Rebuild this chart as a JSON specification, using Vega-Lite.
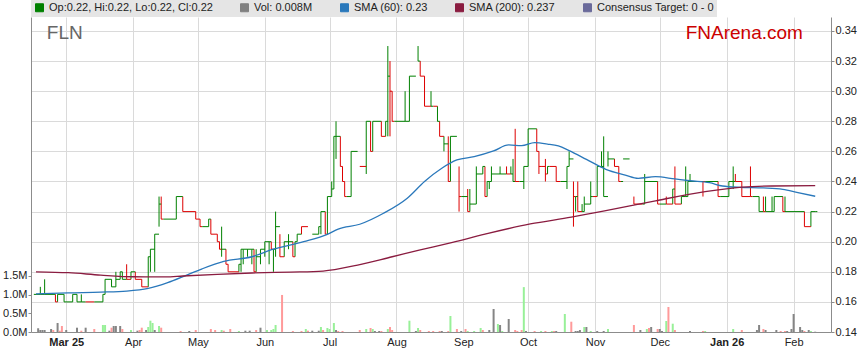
{
"$schema": "https://vega.github.io/schema/vega-lite/v6.json",
"width": 800, "height": 315,
"autosize": {"type": "none"},
"padding": {"left": 31, "top": 17, "right": 28, "bottom": 31},
"background": "white",
"config": {
  "view": {"stroke": null},
  "font": "Liberation Sans",
  "axis": {"labelFont": "Liberation Sans", "labelFontSize": 11, "labelColor": "#222", "domainColor": "#8c8c8c", "tickColor": "#8c8c8c", "gridColor": "#dadada", "gridWidth": 1, "labelOverlap": false},
  "axisRight": {"labelOverlap": false, "values": [0.14,0.16,0.18,0.2,0.22,0.24,0.26,0.28,0.3,0.32,0.34], "tickCount": 11}
},
"datasets": {
"px": [
{"d":"2025-02-14","e":"2025-02-17","l":0.165,"h":0.165,"c":0.165,"u":1},
{"d":"2025-02-17","e":"2025-02-19","l":0.165,"h":0.17,"c":0.165,"u":1},
{"d":"2025-02-19","e":"2025-02-24","l":0.165,"h":0.175,"c":0.165,"u":1},
{"d":"2025-02-24","e":"2025-02-25","l":0.16,"h":0.165,"c":0.16,"u":0},
{"d":"2025-02-25","e":"2025-02-28","l":0.16,"h":0.165,"c":0.165,"u":1},
{"d":"2025-02-28","e":"2025-03-04","l":0.16,"h":0.165,"c":0.16,"u":1},
{"d":"2025-03-04","e":"2025-03-06","l":0.16,"h":0.165,"c":0.165,"u":1},
{"d":"2025-03-06","e":"2025-03-08","l":0.16,"h":0.165,"c":0.16,"u":1},
{"d":"2025-03-08","e":"2025-03-10","l":0.16,"h":0.165,"c":0.16,"u":1},
{"d":"2025-03-10","e":"2025-03-14","l":0.16,"h":0.16,"c":0.16,"u":0},
{"d":"2025-03-14","e":"2025-03-18","l":0.16,"h":0.16,"c":0.16,"u":1},
{"d":"2025-03-18","e":"2025-03-19","l":0.16,"h":0.165,"c":0.165,"u":1},
{"d":"2025-03-19","e":"2025-03-22","l":0.165,"h":0.175,"c":0.175,"u":1},
{"d":"2025-03-22","e":"2025-03-24","l":0.17,"h":0.175,"c":0.17,"u":1},
{"d":"2025-03-24","e":"2025-03-26","l":0.17,"h":0.18,"c":0.175,"u":1},
{"d":"2025-03-26","e":"2025-03-27","l":0.175,"h":0.18,"c":0.18,"u":1},
{"d":"2025-03-27","e":"2025-03-29","l":0.175,"h":0.18,"c":0.175,"u":1},
{"d":"2025-03-29","e":"2025-03-31","l":0.175,"h":0.185,"c":0.175,"u":0},
{"d":"2025-03-31","e":"2025-04-02","l":0.175,"h":0.18,"c":0.18,"u":1},
{"d":"2025-04-02","e":"2025-04-05","l":0.175,"h":0.18,"c":0.175,"u":0},
{"d":"2025-04-05","e":"2025-04-08","l":0.17,"h":0.175,"c":0.17,"u":0},
{"d":"2025-04-08","e":"2025-04-09","l":0.17,"h":0.19,"c":0.19,"u":1},
{"d":"2025-04-09","e":"2025-04-11","l":0.18,"h":0.195,"c":0.195,"u":1},
{"d":"2025-04-11","e":"2025-04-13","l":0.18,"h":0.205,"c":0.205,"u":1},
{"d":"2025-04-13","e":"2025-04-14","l":0.21,"h":0.23,"c":0.225,"u":1},
{"d":"2025-04-14","e":"2025-04-15","l":0.215,"h":0.23,"c":0.215,"u":0},
{"d":"2025-04-15","e":"2025-04-21","l":0.215,"h":0.215,"c":0.215,"u":1},
{"d":"2025-04-21","e":"2025-04-24","l":0.215,"h":0.23,"c":0.23,"u":1},
{"d":"2025-04-24","e":"2025-04-30","l":0.22,"h":0.23,"c":0.22,"u":0},
{"d":"2025-04-30","e":"2025-05-02","l":0.215,"h":0.22,"c":0.215,"u":0},
{"d":"2025-05-02","e":"2025-05-03","l":0.21,"h":0.215,"c":0.21,"u":0},
{"d":"2025-05-03","e":"2025-05-06","l":0.21,"h":0.21,"c":0.21,"u":1},
{"d":"2025-05-06","e":"2025-05-07","l":0.21,"h":0.215,"c":0.215,"u":1},
{"d":"2025-05-07","e":"2025-05-10","l":0.205,"h":0.215,"c":0.205,"u":0},
{"d":"2025-05-10","e":"2025-05-11","l":0.2,"h":0.205,"c":0.2,"u":0},
{"d":"2025-05-11","e":"2025-05-12","l":0.195,"h":0.2,"c":0.195,"u":0},
{"d":"2025-05-12","e":"2025-05-14","l":0.19,"h":0.21,"c":0.195,"u":1},
{"d":"2025-05-14","e":"2025-05-15","l":0.185,"h":0.195,"c":0.185,"u":0},
{"d":"2025-05-15","e":"2025-05-20","l":0.18,"h":0.185,"c":0.18,"u":0},
{"d":"2025-05-20","e":"2025-05-21","l":0.18,"h":0.185,"c":0.185,"u":1},
{"d":"2025-05-21","e":"2025-05-22","l":0.18,"h":0.195,"c":0.195,"u":1},
{"d":"2025-05-22","e":"2025-05-24","l":0.185,"h":0.195,"c":0.195,"u":1},
{"d":"2025-05-24","e":"2025-05-26","l":0.19,"h":0.195,"c":0.195,"u":1},
{"d":"2025-05-26","e":"2025-05-27","l":0.185,"h":0.195,"c":0.195,"u":1},
{"d":"2025-05-27","e":"2025-05-28","l":0.18,"h":0.195,"c":0.18,"u":0},
{"d":"2025-05-28","e":"2025-05-30","l":0.18,"h":0.195,"c":0.19,"u":1},
{"d":"2025-05-30","e":"2025-06-01","l":0.185,"h":0.195,"c":0.195,"u":1},
{"d":"2025-06-01","e":"2025-06-03","l":0.19,"h":0.2,"c":0.2,"u":1},
{"d":"2025-06-03","e":"2025-06-04","l":0.185,"h":0.2,"c":0.2,"u":1},
{"d":"2025-06-04","e":"2025-06-05","l":0.195,"h":0.2,"c":0.195,"u":0},
{"d":"2025-06-05","e":"2025-06-06","l":0.18,"h":0.195,"c":0.195,"u":1},
{"d":"2025-06-06","e":"2025-06-08","l":0.19,"h":0.22,"c":0.21,"u":1},
{"d":"2025-06-08","e":"2025-06-10","l":0.19,"h":0.205,"c":0.19,"u":0},
{"d":"2025-06-10","e":"2025-06-12","l":0.19,"h":0.2,"c":0.2,"u":1},
{"d":"2025-06-12","e":"2025-06-14","l":0.195,"h":0.205,"c":0.2,"u":1},
{"d":"2025-06-14","e":"2025-06-15","l":0.19,"h":0.2,"c":0.19,"u":0},
{"d":"2025-06-15","e":"2025-06-16","l":0.19,"h":0.2,"c":0.2,"u":1},
{"d":"2025-06-16","e":"2025-06-18","l":0.2,"h":0.205,"c":0.205,"u":1},
{"d":"2025-06-18","e":"2025-06-21","l":0.205,"h":0.21,"c":0.21,"u":0},
{"d":"2025-06-23","e":"2025-06-26","l":0.205,"h":0.205,"c":0.205,"u":1},
{"d":"2025-06-26","e":"2025-06-27","l":0.205,"h":0.21,"c":0.21,"u":1},
{"d":"2025-06-27","e":"2025-06-29","l":0.205,"h":0.22,"c":0.22,"u":1},
{"d":"2025-06-29","e":"2025-06-30","l":0.205,"h":0.22,"c":0.205,"u":0},
{"d":"2025-06-30","e":"2025-07-02","l":0.205,"h":0.23,"c":0.23,"u":1},
{"d":"2025-07-02","e":"2025-07-03","l":0.23,"h":0.24,"c":0.235,"u":1},
{"d":"2025-07-03","e":"2025-07-04","l":0.235,"h":0.27,"c":0.27,"u":1},
{"d":"2025-07-04","e":"2025-07-06","l":0.255,"h":0.28,"c":0.27,"u":1},
{"d":"2025-07-06","e":"2025-07-07","l":0.25,"h":0.27,"c":0.25,"u":0},
{"d":"2025-07-07","e":"2025-07-08","l":0.24,"h":0.25,"c":0.24,"u":0},
{"d":"2025-07-08","e":"2025-07-09","l":0.23,"h":0.24,"c":0.23,"u":0},
{"d":"2025-07-09","e":"2025-07-11","l":0.23,"h":0.23,"c":0.23,"u":1},
{"d":"2025-07-11","e":"2025-07-14","l":0.23,"h":0.26,"c":0.26,"u":1},
{"d":"2025-07-15","e":"2025-07-18","l":0.25,"h":0.25,"c":0.25,"u":0},
{"d":"2025-07-18","e":"2025-07-20","l":0.245,"h":0.28,"c":0.28,"u":1},
{"d":"2025-07-20","e":"2025-07-21","l":0.26,"h":0.28,"c":0.26,"u":0},
{"d":"2025-07-21","e":"2025-07-25","l":0.26,"h":0.28,"c":0.28,"u":1},
{"d":"2025-07-25","e":"2025-07-27","l":0.27,"h":0.28,"c":0.27,"u":0},
{"d":"2025-07-27","e":"2025-07-28","l":0.27,"h":0.28,"c":0.28,"u":1},
{"d":"2025-07-28","e":"2025-07-29","l":0.27,"h":0.33,"c":0.31,"u":1},
{"d":"2025-07-29","e":"2025-07-30","l":0.27,"h":0.32,"c":0.3,"u":0},
{"d":"2025-07-30","e":"2025-07-31","l":0.28,"h":0.3,"c":0.28,"u":0},
{"d":"2025-07-31","e":"2025-08-05","l":0.28,"h":0.28,"c":0.28,"u":1},
{"d":"2025-08-05","e":"2025-08-07","l":0.28,"h":0.3,"c":0.28,"u":1},
{"d":"2025-08-07","e":"2025-08-10","l":0.28,"h":0.31,"c":0.31,"u":1},
{"d":"2025-08-11","e":"2025-08-12","l":0.32,"h":0.33,"c":0.32,"u":1},
{"d":"2025-08-12","e":"2025-08-14","l":0.31,"h":0.32,"c":0.31,"u":0},
{"d":"2025-08-14","e":"2025-08-17","l":0.29,"h":0.31,"c":0.29,"u":0},
{"d":"2025-08-17","e":"2025-08-18","l":0.29,"h":0.3,"c":0.29,"u":1},
{"d":"2025-08-18","e":"2025-08-20","l":0.29,"h":0.29,"c":0.29,"u":0},
{"d":"2025-08-20","e":"2025-08-21","l":0.28,"h":0.29,"c":0.28,"u":1},
{"d":"2025-08-21","e":"2025-08-23","l":0.27,"h":0.28,"c":0.27,"u":0},
{"d":"2025-08-23","e":"2025-08-25","l":0.26,"h":0.27,"c":0.265,"u":1},
{"d":"2025-08-25","e":"2025-08-26","l":0.24,"h":0.27,"c":0.24,"u":0},
{"d":"2025-08-26","e":"2025-08-29","l":0.24,"h":0.27,"c":0.27,"u":1},
{"d":"2025-08-30","e":"2025-08-31","l":0.22,"h":0.25,"c":0.23,"u":0},
{"d":"2025-08-31","e":"2025-09-03","l":0.23,"h":0.23,"c":0.23,"u":1},
{"d":"2025-09-03","e":"2025-09-04","l":0.22,"h":0.235,"c":0.22,"u":0},
{"d":"2025-09-04","e":"2025-09-07","l":0.22,"h":0.235,"c":0.225,"u":1},
{"d":"2025-09-07","e":"2025-09-10","l":0.225,"h":0.25,"c":0.245,"u":1},
{"d":"2025-09-10","e":"2025-09-11","l":0.245,"h":0.25,"c":0.25,"u":1},
{"d":"2025-09-11","e":"2025-09-12","l":0.23,"h":0.25,"c":0.23,"u":0},
{"d":"2025-09-12","e":"2025-09-13","l":0.23,"h":0.24,"c":0.24,"u":1},
{"d":"2025-09-13","e":"2025-09-14","l":0.235,"h":0.24,"c":0.24,"u":1},
{"d":"2025-09-14","e":"2025-09-18","l":0.24,"h":0.25,"c":0.245,"u":1},
{"d":"2025-09-18","e":"2025-09-21","l":0.245,"h":0.25,"c":0.245,"u":1},
{"d":"2025-09-21","e":"2025-09-23","l":0.245,"h":0.25,"c":0.245,"u":0},
{"d":"2025-09-23","e":"2025-09-24","l":0.245,"h":0.25,"c":0.245,"u":1},
{"d":"2025-09-24","e":"2025-09-25","l":0.24,"h":0.255,"c":0.24,"u":1},
{"d":"2025-09-25","e":"2025-09-27","l":0.24,"h":0.275,"c":0.24,"u":0},
{"d":"2025-09-27","e":"2025-09-29","l":0.24,"h":0.24,"c":0.24,"u":1},
{"d":"2025-09-29","e":"2025-10-01","l":0.235,"h":0.25,"c":0.25,"u":1},
{"d":"2025-10-01","e":"2025-10-05","l":0.25,"h":0.275,"c":0.275,"u":1},
{"d":"2025-10-05","e":"2025-10-06","l":0.26,"h":0.275,"c":0.26,"u":0},
{"d":"2025-10-06","e":"2025-10-07","l":0.245,"h":0.26,"c":0.25,"u":0},
{"d":"2025-10-07","e":"2025-10-09","l":0.25,"h":0.25,"c":0.25,"u":0},
{"d":"2025-10-09","e":"2025-10-10","l":0.24,"h":0.255,"c":0.245,"u":0},
{"d":"2025-10-10","e":"2025-10-11","l":0.245,"h":0.25,"c":0.25,"u":1},
{"d":"2025-10-11","e":"2025-10-14","l":0.25,"h":0.25,"c":0.25,"u":0},
{"d":"2025-10-14","e":"2025-10-16","l":0.24,"h":0.25,"c":0.24,"u":0},
{"d":"2025-10-16","e":"2025-10-19","l":0.24,"h":0.24,"c":0.24,"u":1},
{"d":"2025-10-19","e":"2025-10-20","l":0.235,"h":0.25,"c":0.25,"u":1},
{"d":"2025-10-20","e":"2025-10-22","l":0.25,"h":0.26,"c":0.255,"u":1},
{"d":"2025-10-22","e":"2025-10-23","l":0.21,"h":0.24,"c":0.23,"u":0},
{"d":"2025-10-23","e":"2025-10-24","l":0.22,"h":0.23,"c":0.23,"u":1},
{"d":"2025-10-24","e":"2025-10-26","l":0.22,"h":0.24,"c":0.22,"u":0},
{"d":"2025-10-26","e":"2025-10-27","l":0.22,"h":0.225,"c":0.22,"u":1},
{"d":"2025-10-27","e":"2025-10-30","l":0.22,"h":0.23,"c":0.225,"u":1},
{"d":"2025-10-30","e":"2025-10-31","l":0.225,"h":0.24,"c":0.23,"u":1},
{"d":"2025-10-31","e":"2025-11-02","l":0.23,"h":0.23,"c":0.23,"u":0},
{"d":"2025-11-02","e":"2025-11-04","l":0.23,"h":0.25,"c":0.25,"u":1},
{"d":"2025-11-04","e":"2025-11-05","l":0.25,"h":0.26,"c":0.25,"u":1},
{"d":"2025-11-05","e":"2025-11-07","l":0.23,"h":0.27,"c":0.23,"u":1},
{"d":"2025-11-07","e":"2025-11-10","l":0.25,"h":0.26,"c":0.255,"u":1},
{"d":"2025-11-10","e":"2025-11-12","l":0.25,"h":0.255,"c":0.25,"u":0},
{"d":"2025-11-12","e":"2025-11-13","l":0.24,"h":0.25,"c":0.24,"u":0},
{"d":"2025-11-13","e":"2025-11-14","l":0.24,"h":0.24,"c":0.24,"u":1},
{"d":"2025-11-14","e":"2025-11-17","l":0.255,"h":0.255,"c":0.255,"u":1},
{"d":"2025-11-19","e":"2025-11-23","l":0.225,"h":0.23,"c":0.225,"u":0},
{"d":"2025-11-23","e":"2025-11-24","l":0.225,"h":0.225,"c":0.225,"u":1},
{"d":"2025-11-24","e":"2025-11-30","l":0.225,"h":0.245,"c":0.24,"u":1},
{"d":"2025-11-30","e":"2025-12-01","l":0.225,"h":0.24,"c":0.225,"u":0},
{"d":"2025-12-01","e":"2025-12-04","l":0.225,"h":0.225,"c":0.225,"u":1},
{"d":"2025-12-04","e":"2025-12-07","l":0.225,"h":0.23,"c":0.225,"u":0},
{"d":"2025-12-07","e":"2025-12-08","l":0.225,"h":0.235,"c":0.235,"u":1},
{"d":"2025-12-08","e":"2025-12-11","l":0.225,"h":0.25,"c":0.225,"u":0},
{"d":"2025-12-11","e":"2025-12-13","l":0.225,"h":0.23,"c":0.23,"u":1},
{"d":"2025-12-13","e":"2025-12-14","l":0.23,"h":0.25,"c":0.23,"u":1},
{"d":"2025-12-14","e":"2025-12-15","l":0.23,"h":0.24,"c":0.24,"u":1},
{"d":"2025-12-15","e":"2025-12-21","l":0.24,"h":0.245,"c":0.24,"u":1},
{"d":"2025-12-21","e":"2025-12-22","l":0.23,"h":0.24,"c":0.24,"u":0},
{"d":"2025-12-22","e":"2025-12-28","l":0.24,"h":0.24,"c":0.24,"u":1},
{"d":"2025-12-28","e":"2025-12-29","l":0.23,"h":0.24,"c":0.23,"u":0},
{"d":"2025-12-29","e":"2026-01-02","l":0.23,"h":0.23,"c":0.23,"u":1},
{"d":"2026-01-02","e":"2026-01-04","l":0.23,"h":0.24,"c":0.24,"u":1},
{"d":"2026-01-04","e":"2026-01-05","l":0.235,"h":0.25,"c":0.24,"u":1},
{"d":"2026-01-05","e":"2026-01-08","l":0.24,"h":0.245,"c":0.24,"u":0},
{"d":"2026-01-08","e":"2026-01-12","l":0.23,"h":0.24,"c":0.23,"u":0},
{"d":"2026-01-12","e":"2026-01-13","l":0.23,"h":0.25,"c":0.23,"u":0},
{"d":"2026-01-13","e":"2026-01-16","l":0.23,"h":0.23,"c":0.23,"u":1},
{"d":"2026-01-16","e":"2026-01-18","l":0.22,"h":0.23,"c":0.22,"u":1},
{"d":"2026-01-18","e":"2026-01-19","l":0.22,"h":0.23,"c":0.22,"u":0},
{"d":"2026-01-19","e":"2026-01-22","l":0.22,"h":0.23,"c":0.22,"u":1},
{"d":"2026-01-22","e":"2026-01-23","l":0.22,"h":0.23,"c":0.22,"u":1},
{"d":"2026-01-23","e":"2026-01-27","l":0.22,"h":0.23,"c":0.23,"u":1},
{"d":"2026-01-27","e":"2026-01-28","l":0.22,"h":0.23,"c":0.22,"u":0},
{"d":"2026-01-28","e":"2026-02-06","l":0.22,"h":0.23,"c":0.22,"u":1},
{"d":"2026-02-06","e":"2026-02-09","l":0.21,"h":0.22,"c":0.21,"u":0},
{"d":"2026-02-09","e":"2026-02-11","l":0.21,"h":0.22,"c":0.22,"u":1},
{"d":"2026-02-11","e":"2026-02-12","l":0.22,"h":0.22,"c":0.22,"u":1}
],
"vol": [
{"d":"2025-02-16","v":100000,"k":"n"},{"d":"2025-02-17","v":53000,"k":"n"},{"d":"2025-02-18","v":53000,"k":"n"},{"d":"2025-02-19","v":53000,"k":"n"},
{"d":"2025-02-22","v":80000,"k":"n"},{"d":"2025-02-23","v":53000,"k":"d"},{"d":"2025-02-25","v":240000,"k":"n"},{"d":"2025-02-26","v":35000,"k":"d"},
{"d":"2025-02-27","v":160000,"k":"d"},{"d":"2025-03-01","v":53000,"k":"n"},{"d":"2025-03-06","v":115000,"k":"n"},{"d":"2025-03-08","v":35000,"k":"d"},
{"d":"2025-03-10","v":115000,"k":"n"},{"d":"2025-03-14","v":80000,"k":"d"},{"d":"2025-03-18","v":187000,"k":"u"},{"d":"2025-03-19","v":187000,"k":"u"},
{"d":"2025-03-21","v":35000,"k":"n"},{"d":"2025-03-22","v":115000,"k":"d"},{"d":"2025-03-23","v":160000,"k":"n"},{"d":"2025-03-24","v":160000,"k":"n"},
{"d":"2025-03-26","v":160000,"k":"n"},{"d":"2025-03-27","v":80000,"k":"d"},{"d":"2025-03-31","v":53000,"k":"u"},{"d":"2025-04-03","v":35000,"k":"n"},
{"d":"2025-04-04","v":53000,"k":"d"},{"d":"2025-04-05","v":115000,"k":"d"},{"d":"2025-04-07","v":53000,"k":"n"},{"d":"2025-04-08","v":134000,"k":"u"},
{"d":"2025-04-09","v":302000,"k":"u"},{"d":"2025-04-10","v":240000,"k":"u"},{"d":"2025-04-11","v":53000,"k":"n"},{"d":"2025-04-13","v":160000,"k":"u"},
{"d":"2025-04-14","v":115000,"k":"d"},{"d":"2025-04-23","v":27000,"k":"d"},{"d":"2025-04-27","v":27000,"k":"n"},{"d":"2025-04-30","v":53000,"k":"d"},
{"d":"2025-05-07","v":80000,"k":"d"},{"d":"2025-05-09","v":53000,"k":"d"},{"d":"2025-05-12","v":53000,"k":"u"},{"d":"2025-05-13","v":35000,"k":"d"},
{"d":"2025-05-16","v":80000,"k":"d"},{"d":"2025-05-20","v":27000,"k":"u"},{"d":"2025-05-23","v":35000,"k":"n"},{"d":"2025-05-25","v":35000,"k":"n"},
{"d":"2025-05-28","v":53000,"k":"d"},{"d":"2025-05-30","v":115000,"k":"n"},{"d":"2025-06-02","v":53000,"k":"u"},{"d":"2025-06-04","v":53000,"k":"u"},
{"d":"2025-06-05","v":80000,"k":"u"},{"d":"2025-06-06","v":187000,"k":"u"},{"d":"2025-06-09","v":990000,"k":"d"},{"d":"2025-06-14","v":27000,"k":"d"},
{"d":"2025-06-18","v":27000,"k":"d"},{"d":"2025-06-20","v":80000,"k":"u"},{"d":"2025-06-21","v":35000,"k":"d"},{"d":"2025-06-23","v":35000,"k":"n"},
{"d":"2025-06-26","v":35000,"k":"n"},{"d":"2025-06-27","v":134000,"k":"u"},{"d":"2025-06-28","v":53000,"k":"d"},{"d":"2025-06-30","v":107000,"k":"u"},
{"d":"2025-07-01","v":80000,"k":"u"},{"d":"2025-07-03","v":240000,"k":"u"},{"d":"2025-07-04","v":53000,"k":"n"},{"d":"2025-07-05","v":27000,"k":"d"},
{"d":"2025-07-07","v":27000,"k":"d"},{"d":"2025-07-15","v":53000,"k":"d"},{"d":"2025-07-18","v":80000,"k":"u"},{"d":"2025-07-20","v":107000,"k":"d"},
{"d":"2025-07-21","v":80000,"k":"u"},{"d":"2025-07-22","v":27000,"k":"n"},{"d":"2025-07-24","v":27000,"k":"n"},{"d":"2025-07-25","v":27000,"k":"d"},
{"d":"2025-07-28","v":80000,"k":"u"},{"d":"2025-07-29","v":134000,"k":"d"},{"d":"2025-07-30","v":53000,"k":"d"},{"d":"2025-08-07","v":302000,"k":"u"},
{"d":"2025-08-10","v":27000,"k":"n"},{"d":"2025-08-11","v":107000,"k":"u"},{"d":"2025-08-12","v":53000,"k":"d"},{"d":"2025-08-16","v":27000,"k":"d"},
{"d":"2025-08-18","v":27000,"k":"d"},{"d":"2025-08-21","v":27000,"k":"d"},{"d":"2025-08-22","v":27000,"k":"n"},{"d":"2025-08-25","v":27000,"k":"d"},
{"d":"2025-08-26","v":428000,"k":"u"},{"d":"2025-08-29","v":80000,"k":"d"},{"d":"2025-08-31","v":27000,"k":"n"},{"d":"2025-09-02","v":80000,"k":"d"},
{"d":"2025-09-03","v":27000,"k":"u"},{"d":"2025-09-06","v":27000,"k":"u"},{"d":"2025-09-09","v":107000,"k":"u"},{"d":"2025-09-10","v":53000,"k":"d"},
{"d":"2025-09-13","v":53000,"k":"n"},{"d":"2025-09-15","v":615000,"k":"n"},{"d":"2025-09-17","v":214000,"k":"u"},{"d":"2025-09-18","v":187000,"k":"n"},
{"d":"2025-09-19","v":27000,"k":"u"},{"d":"2025-09-22","v":348000,"k":"n"},{"d":"2025-09-25","v":53000,"k":"d"},{"d":"2025-09-26","v":27000,"k":"d"},
{"d":"2025-09-28","v":53000,"k":"d"},{"d":"2025-09-29","v":1200000,"k":"u"},{"d":"2025-09-30","v":27000,"k":"n"},{"d":"2025-10-04","v":27000,"k":"d"},
{"d":"2025-10-07","v":27000,"k":"u"},{"d":"2025-10-09","v":27000,"k":"d"},{"d":"2025-10-12","v":27000,"k":"u"},{"d":"2025-10-13","v":27000,"k":"d"},
{"d":"2025-10-14","v":27000,"k":"n"},{"d":"2025-10-18","v":481000,"k":"u"},{"d":"2025-10-21","v":275000,"k":"d"},{"d":"2025-10-23","v":27000,"k":"n"},
{"d":"2025-10-24","v":27000,"k":"n"},{"d":"2025-10-25","v":53000,"k":"n"},{"d":"2025-10-27","v":134000,"k":"u"},{"d":"2025-10-28","v":134000,"k":"n"},
{"d":"2025-10-30","v":27000,"k":"u"},{"d":"2025-11-02","v":27000,"k":"n"},{"d":"2025-11-05","v":27000,"k":"n"},{"d":"2025-11-07","v":80000,"k":"u"},
{"d":"2025-11-19","v":187000,"k":"d"},{"d":"2025-11-22","v":53000,"k":"n"},{"d":"2025-11-25","v":80000,"k":"u"},{"d":"2025-11-26","v":107000,"k":"d"},
{"d":"2025-11-27","v":134000,"k":"n"},{"d":"2025-11-30","v":80000,"k":"d"},{"d":"2025-12-01","v":80000,"k":"n"},{"d":"2025-12-02","v":27000,"k":"n"},
{"d":"2025-12-04","v":294000,"k":"u"},{"d":"2025-12-05","v":668000,"k":"d"},{"d":"2025-12-07","v":222000,"k":"u"},{"d":"2025-12-08","v":53000,"k":"d"},
{"d":"2025-12-15","v":27000,"k":"n"},{"d":"2025-12-21","v":27000,"k":"d"},{"d":"2025-12-22","v":27000,"k":"u"},{"d":"2026-01-04","v":80000,"k":"u"},
{"d":"2026-01-08","v":53000,"k":"d"},{"d":"2026-01-15","v":53000,"k":"n"},{"d":"2026-01-16","v":187000,"k":"n"},{"d":"2026-01-18","v":80000,"k":"d"},
{"d":"2026-01-19","v":53000,"k":"n"},{"d":"2026-01-24","v":53000,"k":"n"},{"d":"2026-01-26","v":27000,"k":"d"},{"d":"2026-01-28","v":27000,"k":"d"},
{"d":"2026-01-29","v":27000,"k":"n"},{"d":"2026-01-31","v":80000,"k":"n"},{"d":"2026-02-01","v":481000,"k":"n"},{"d":"2026-02-04","v":134000,"k":"n"},
{"d":"2026-02-05","v":53000,"k":"n"},{"d":"2026-02-06","v":27000,"k":"d"},{"d":"2026-02-08","v":53000,"k":"n"},{"d":"2026-02-09","v":27000,"k":"u"},
{"d":"2026-02-11","v":8000,"k":"n"}
],
"sma": [
{"s":"sma60","d":"2025-02-15","v":0.1653},{"s":"sma60","d":"2025-03-02","v":0.166},{"s":"sma60","d":"2025-03-17","v":0.1665},
{"s":"sma60","d":"2025-03-29","v":0.1672},{"s":"sma60","d":"2025-04-08","v":0.169},{"s":"sma60","d":"2025-04-17","v":0.1728},
{"s":"sma60","d":"2025-04-25","v":0.1773},{"s":"sma60","d":"2025-05-03","v":0.182},{"s":"sma60","d":"2025-05-13","v":0.1869},
{"s":"sma60","d":"2025-05-26","v":0.19},{"s":"sma60","d":"2025-06-05","v":0.195},{"s":"sma60","d":"2025-06-19","v":0.2},
{"s":"sma60","d":"2025-06-30","v":0.2049},{"s":"sma60","d":"2025-07-05","v":0.2084},{"s":"sma60","d":"2025-07-15","v":0.2116},
{"s":"sma60","d":"2025-07-26","v":0.2189},{"s":"sma60","d":"2025-08-06","v":0.2289},{"s":"sma60","d":"2025-08-14","v":0.24},
{"s":"sma60","d":"2025-08-22","v":0.2488},{"s":"sma60","d":"2025-08-29","v":0.2543},{"s":"sma60","d":"2025-09-06","v":0.2565},
{"s":"sma60","d":"2025-09-15","v":0.2603},{"s":"sma60","d":"2025-09-22","v":0.2643},{"s":"sma60","d":"2025-09-28","v":0.2638},
{"s":"sma60","d":"2025-10-04","v":0.2658},{"s":"sma60","d":"2025-10-10","v":0.2649},{"s":"sma60","d":"2025-10-15","v":0.2636},
{"s":"sma60","d":"2025-10-20","v":0.2605},{"s":"sma60","d":"2025-10-28","v":0.2547},{"s":"sma60","d":"2025-11-06","v":0.2481},
{"s":"sma60","d":"2025-11-15","v":0.2443},{"s":"sma60","d":"2025-11-21","v":0.2421},{"s":"sma60","d":"2025-11-29","v":0.2432},
{"s":"sma60","d":"2025-12-08","v":0.2417},{"s":"sma60","d":"2025-12-15","v":0.2405},{"s":"sma60","d":"2025-12-24","v":0.2392},
{"s":"sma60","d":"2025-12-30","v":0.237},{"s":"sma60","d":"2026-01-07","v":0.2361},{"s":"sma60","d":"2026-01-18","v":0.2357},
{"s":"sma60","d":"2026-01-27","v":0.2348},{"s":"sma60","d":"2026-02-03","v":0.2326},{"s":"sma60","d":"2026-02-11","v":0.2302},
{"s":"sma200","d":"2025-02-15","v":0.18},{"s":"sma200","d":"2025-03-02","v":0.1794},{"s":"sma200","d":"2025-03-17","v":0.1778},
{"s":"sma200","d":"2025-04-01","v":0.1767},{"s":"sma200","d":"2025-04-16","v":0.1766},{"s":"sma200","d":"2025-04-24","v":0.1772},
{"s":"sma200","d":"2025-05-10","v":0.1783},{"s":"sma200","d":"2025-05-26","v":0.1792},{"s":"sma200","d":"2025-06-13","v":0.1798},
{"s":"sma200","d":"2025-06-28","v":0.1805},{"s":"sma200","d":"2025-07-14","v":0.1845},{"s":"sma200","d":"2025-07-30","v":0.19},
{"s":"sma200","d":"2025-08-12","v":0.1945},{"s":"sma200","d":"2025-08-27","v":0.1996},{"s":"sma200","d":"2025-09-11","v":0.205},
{"s":"sma200","d":"2025-10-02","v":0.2118},{"s":"sma200","d":"2025-10-21","v":0.2163},{"s":"sma200","d":"2025-11-06","v":0.2206},
{"s":"sma200","d":"2025-11-29","v":0.2272},{"s":"sma200","d":"2025-12-22","v":0.2332},{"s":"sma200","d":"2026-01-08","v":0.2362},
{"s":"sma200","d":"2026-01-22","v":0.237},{"s":"sma200","d":"2026-02-11","v":0.2372}
]
},
"layer": [
{
  "data": {"name": "vol"},
  "mark": {"type": "bar", "width": 2, "clip": true},
  "encoding": {
    "x": {"field": "d", "type": "temporal",
      "scale": {"type": "utc", "domain": [{"year":2025,"month":2,"date":15,"utc":true},{"year":2026,"month":2,"date":16,"utc":true}]},
      "axis": {"title": null, "grid": true, "ticks": false, "labelPadding": 4, "labelFlush": false, "labelOverlap": false, "labelBound": false,
        "values": [{"year":2025,"month":3,"date":1,"utc":true},{"year":2025,"month":4,"date":1,"utc":true},{"year":2025,"month":5,"date":1,"utc":true},{"year":2025,"month":6,"date":1,"utc":true},{"year":2025,"month":7,"date":1,"utc":true},{"year":2025,"month":8,"date":1,"utc":true},{"year":2025,"month":9,"date":1,"utc":true},{"year":2025,"month":10,"date":1,"utc":true},{"year":2025,"month":11,"date":1,"utc":true},{"year":2025,"month":12,"date":1,"utc":true},{"year":2026,"month":1,"date":1,"utc":true},{"year":2026,"month":2,"date":1,"utc":true}],
        "labelExpr": "utcFormat(datum.value, (utcmonth(datum.value) == 0 || (utcyear(datum.value) == 2025 && utcmonth(datum.value) == 2)) ? '%b %y' : '%b')",
        "labelFontWeight": {"condition": {"test": "utcmonth(datum.value) == 0 || (utcyear(datum.value) == 2025 && utcmonth(datum.value) == 2)", "value": "bold"}, "value": "normal"}
      }},
    "y": {"field": "v", "type": "quantitative",
      "scale": {"domain": [0, 8420000], "nice": false, "zero": true},
      "axis": {"orient": "left", "title": null, "grid": false, "values": [0, 500000, 1000000, 1500000], "tickSize": 3, "labelPadding": 1, "labelOverlap": false,
        "labelExpr": "format(datum.value / 1000000, '.1f') + 'M'"}},
    "color": {"condition": [{"test": "datum.k == 'u'", "value": "#98f098"}, {"test": "datum.k == 'd'", "value": "#ff9a9a"}], "value": "#858585"}
  }
},
{
  "layer": [
    {
      "data": {"name": "px"},
      "mark": {"type": "rule", "strokeWidth": 1, "clip": true},
      "encoding": {
        "x": {"field": "d", "type": "temporal"},
        "y": {"field": "l", "type": "quantitative",
          "scale": {"domain": [0.14, 0.3493], "nice": false, "zero": false},
          "axis": {"orient": "right", "title": null, "grid": true, "values": [0.14,0.16,0.18,0.2,0.22,0.24,0.26,0.28,0.3,0.32,0.34], "format": ".2f", "tickSize": 3, "labelPadding": 1, "labelOverlap": false, "labelBound": false, "labelFlush": false}},
        "y2": {"field": "h"},
        "color": {"condition": {"test": "datum.u == 1", "value": "#008000"}, "value": "#dd0000"}
      }
    },
    {
      "data": {"name": "px"},
      "mark": {"type": "rule", "strokeWidth": 1, "clip": true},
      "encoding": {
        "x": {"field": "d", "type": "temporal"},
        "x2": {"field": "e"},
        "y": {"field": "c", "type": "quantitative",
          "axis": {"orient": "right", "title": null, "grid": true, "values": [0.14,0.16,0.18,0.2,0.22,0.24,0.26,0.28,0.3,0.32,0.34], "format": ".2f", "tickSize": 3, "labelPadding": 1, "labelOverlap": false, "labelBound": false, "labelFlush": false}},
        "color": {"condition": {"test": "datum.u == 1", "value": "#008000"}, "value": "#dd0000"}
      }
    },
    {
      "data": {"name": "sma"},
      "mark": {"type": "line", "strokeWidth": 1.3, "clip": true, "interpolate": "monotone"},
      "encoding": {
        "x": {"field": "d", "type": "temporal"},
        "y": {"field": "v", "type": "quantitative",
          "axis": {"orient": "right", "title": null, "grid": true, "values": [0.14,0.16,0.18,0.2,0.22,0.24,0.26,0.28,0.3,0.32,0.34], "format": ".2f", "tickSize": 3, "labelPadding": 1, "labelOverlap": false, "labelBound": false, "labelFlush": false}},
        "color": {"field": "s", "type": "nominal",
          "scale": {"domain": ["ohlc", "vol", "sma60", "sma200", "cons"], "range": ["#008000", "#808080", "#2a78bb", "#8a1c40", "#6a6a9a"]},
          "legend": {"orient": "top", "direction": "horizontal", "title": null, "offset": 0, "padding": 3, "fillColor": "#e5e5e5",
            "columnPadding": 25, "symbolType": "square", "symbolSize": 64, "labelOffset": 4, "labelFont": "Liberation Sans", "labelFontSize": 11, "labelColor": "#222", "labelLimit": 3000,
            "labelExpr": "datum.value == 'ohlc' ? 'Op:0.22, Hi:0.22, Lo:0.22, Cl:0.22' : datum.value == 'vol' ? 'Vol: 0.008M' : datum.value == 'sma60' ? 'SMA (60): 0.23' : datum.value == 'sma200' ? 'SMA (200): 0.237' : 'Consensus Target: 0 - 0\u00a0\u00a0\u00a0\u00a0\u00a0\u00a0\u00a0\u00a0\u00a0\u00a0\u00a0\u00a0\u00a0\u00a0\u00a0\u00a0\u00a0\u00a0\u00a0\u00a0\u00a0\u00a0\u00a0\u00a0\u00a0\u00a0\u00a0\u00a0\u00a0\u00a0\u00a0\u00a0\u00a0\u00a0\u00a0\u00a0\u00a0\u00a0\u00a0\u00a0\u00a0\u00a0\u00a0\u00a0\u00a0\u00a0\u00a0'",
            "encode": {"symbols": {"update": {"fill": {"scale": "color", "field": "value"}, "stroke": {"value": "#333"}, "strokeWidth": {"value": 1}, "opacity": {"value": 1}}}}
          }}
      }
    },
    {
      "data": {"values": [{}]},
      "mark": {"type": "text", "text": "FLN", "align": "left", "baseline": "alphabetic", "fontSize": 19, "font": "Liberation Sans", "color": "#666666"},
      "encoding": {
        "x": {"datum": {"year":2025,"month":2,"date":20,"utc":true}, "type": "temporal"},
        "y": {"datum": 0.3347, "type": "quantitative"}
      }
    },
    {
      "data": {"values": [{}]},
      "mark": {"type": "text", "text": "FNArena.com", "align": "left", "baseline": "alphabetic", "fontSize": 19, "font": "Liberation Sans", "color": "#cc0000"},
      "encoding": {
        "x": {"datum": {"year":2025,"month":12,"date":13,"utc":true}, "type": "temporal"},
        "y": {"datum": 0.3347, "type": "quantitative"}
      }
    }
  ]
}
],
"resolve": {"scale": {"y": "independent"}}
}
